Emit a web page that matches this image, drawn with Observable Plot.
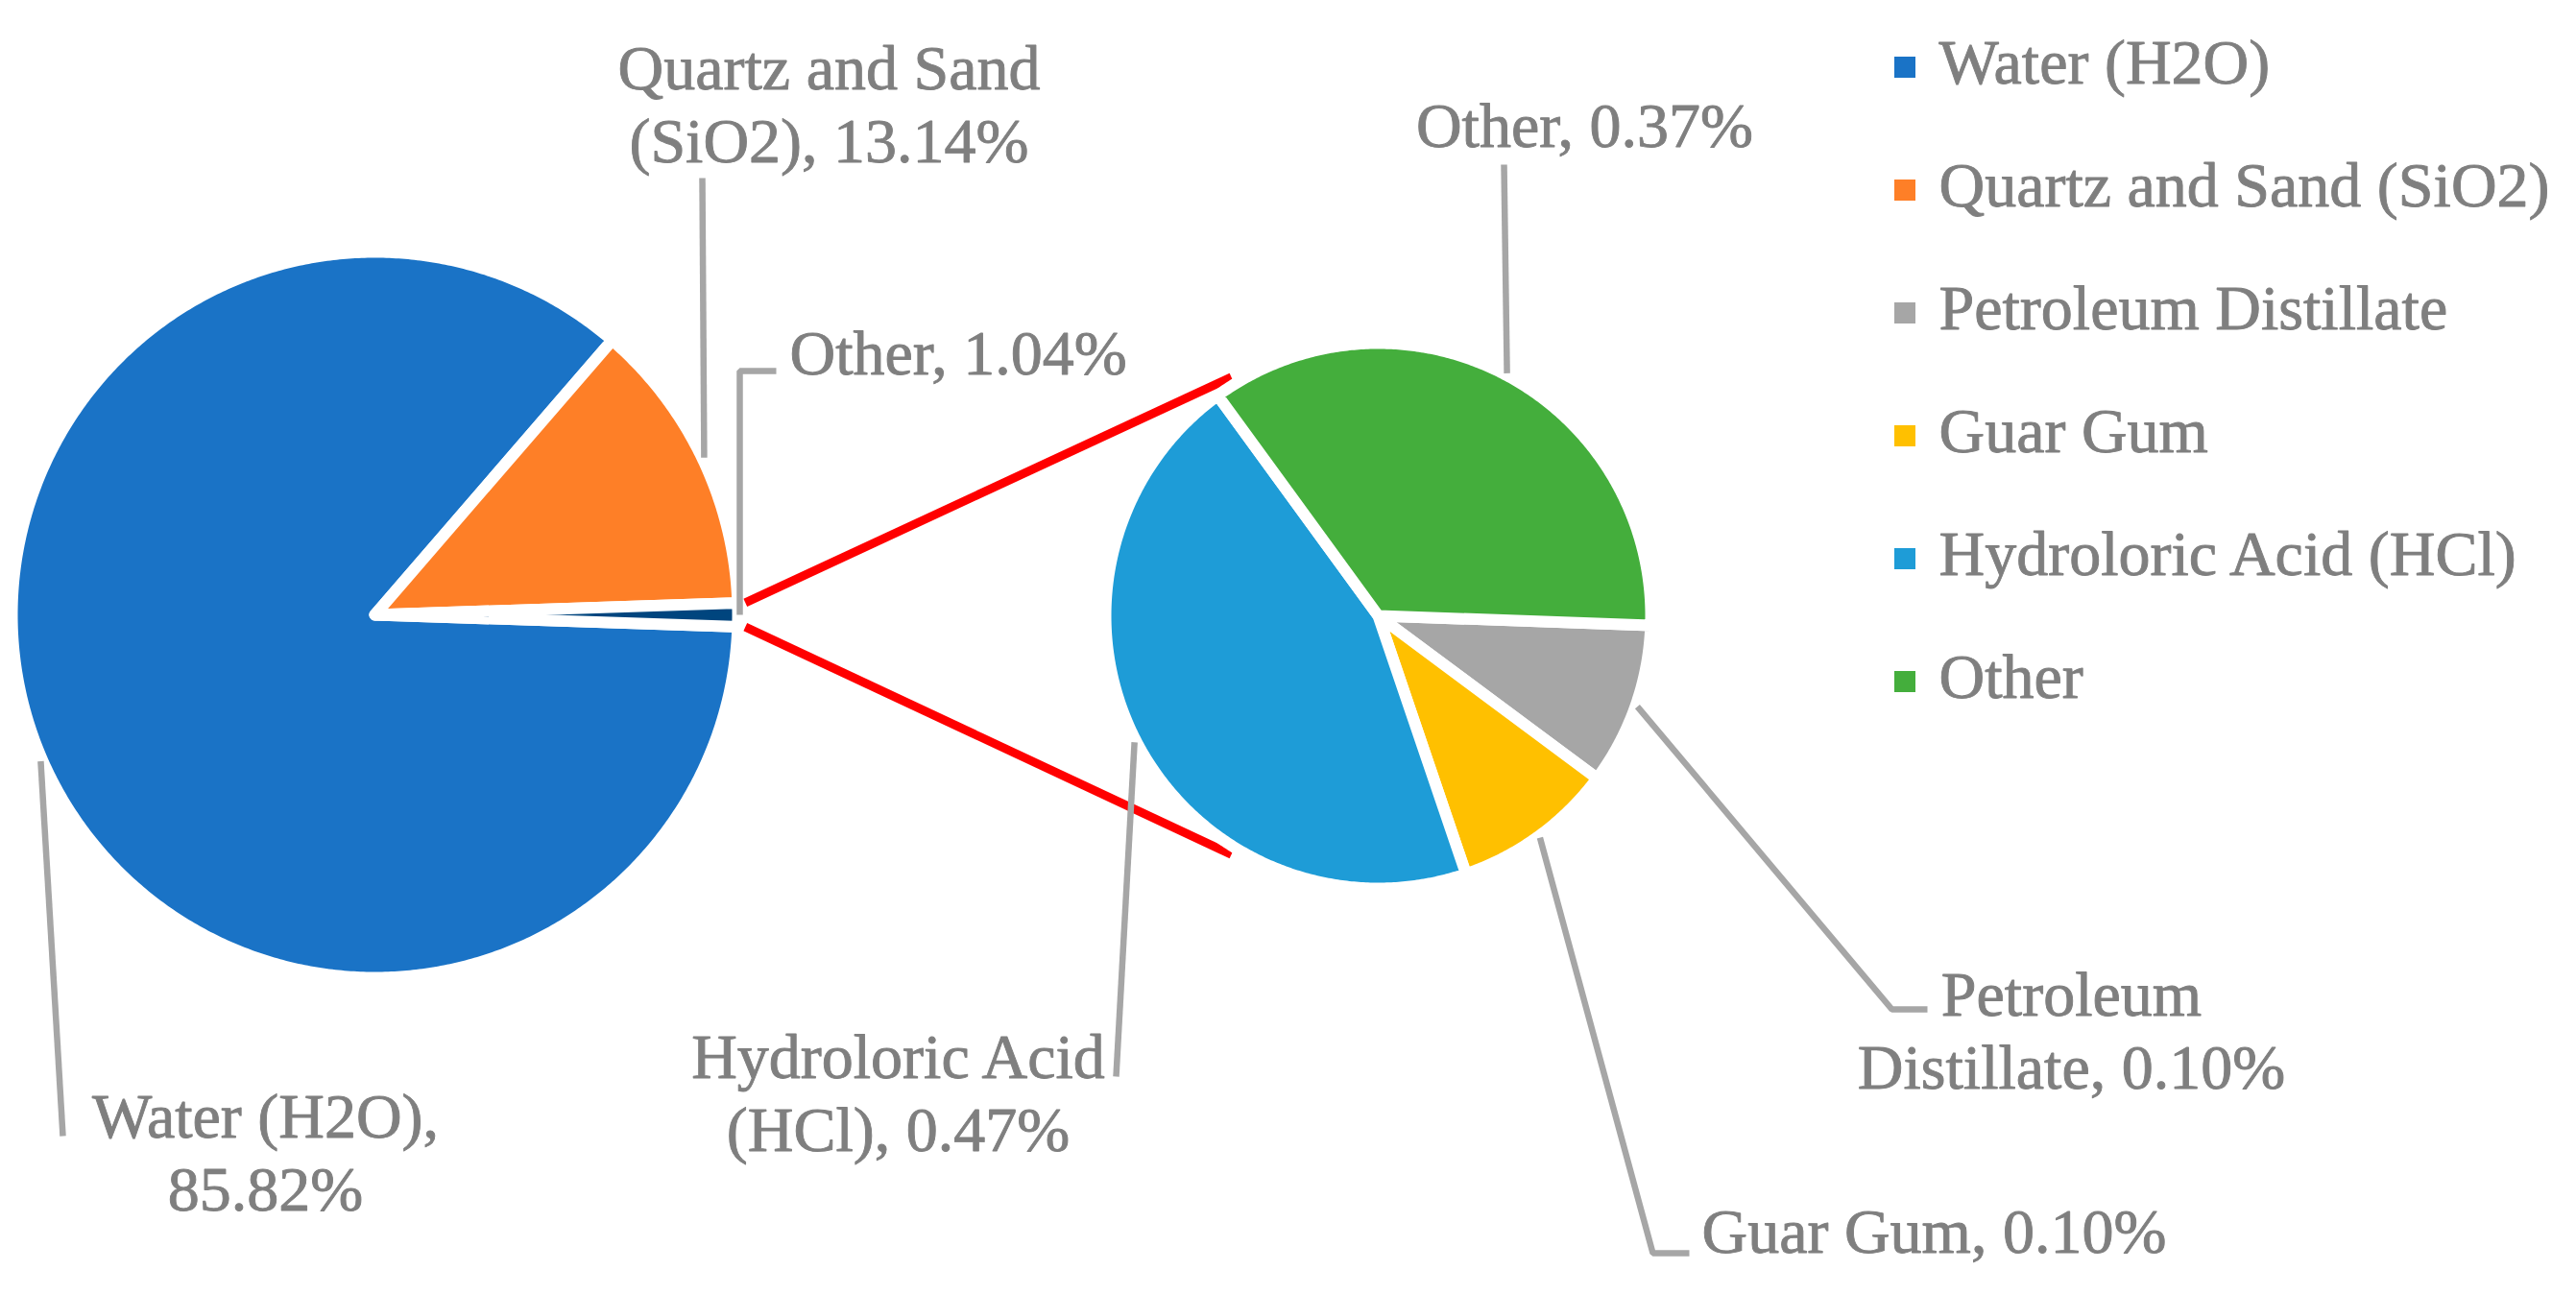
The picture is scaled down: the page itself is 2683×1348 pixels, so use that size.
<!DOCTYPE html>
<html>
<head>
<meta charset="utf-8">
<script src="https://cdn.jsdelivr.net/npm/d3@7"></script>
<script src="https://cdn.jsdelivr.net/npm/@observablehq/plot@0.6"></script>
<style>
  html, body { margin: 0; padding: 0; background: #ffffff; }
  #chart svg { display: block; }
</style>
</head>
<body>
<div id="chart"></div>
<script>
// ---------- data ----------
const mainCategories = ["Water (H2O)", "Quartz and Sand (SiO2)", "Other"];
const mainValues = [85.82, 13.14, 1.04];
const mainColors = ["#1a73c6", "#fe7f27", "#00457e"];

const secCategories = ["Petroleum Distillate", "Guar Gum", "Hydroloric Acid (HCl)", "Other"];
const secValues = [0.10, 0.10, 0.47, 0.37];
const secColors = ["#a6a6a6", "#ffc000", "#1e9cd7", "#44ae3c"];

const legendCategories = ["Water (H2O)", "Quartz and Sand (SiO2)", "Petroleum Distillate", "Guar Gum", "Hydroloric Acid (HCl)", "Other"];
const legendColors = ["#1a73c6", "#fe7f27", "#a6a6a6", "#ffc000", "#1e9cd7", "#44ae3c"];

// ---------- layout (pixels) ----------
const W = 2683, H = 1348;
const FONT = "'Liberation Serif', serif";
const FS = 66;
const LH = 1.15;
const TEXT = "#7f7f7f";
const LEADER = "#a6a6a6";
const TEXT_DY = -5;

const mainPie = {cx: 390, cy: 640, r: 378, start: 0};
const secPie = {cx: 1435, cy: 641, r: 284, start: 92};
// main pie: the "Other" slice is centred at 3 o'clock
mainPie.start = 90 + (mainValues[2] / d3.sum(mainValues)) * 360 / 2;

// label layout: words on first line, text anchor point, leader elbow points
const mainLabelLayout = [
  {wrap: 2, x: 276, y: 1203, anchor: "middle", elbow: [[65, 1183]]},
  {wrap: 3, x: 863, y: 111, anchor: "middle", elbow: [[731, 185]]},
  {wrap: 0, x: 822, y: 370, anchor: "start", elbow: [[770, 386], [808, 386]]}
];
const secLabelLayout = [
  {wrap: 1, x: 2157, y: 1076, anchor: "middle", elbow: [[1970, 1051], [2007, 1051]]},
  {wrap: 0, x: 1772, y: 1285, anchor: "start", elbow: [[1721, 1305], [1759, 1305]]},
  {wrap: 2, x: 935, y: 1141, anchor: "middle", elbow: [[1162, 1121]]},
  {wrap: 0, x: 1650, y: 133, anchor: "middle", elbow: [[1566, 171]]}
];
const legendLayout = {squareX: 1973, size: 22, textX: 2019, y0: 70, step: 128};

// ---------- geometry helpers ----------
const rad = d => d * Math.PI / 180;
const pt = (p, angDeg, r) => [p.cx + r * Math.sin(rad(angDeg)), p.cy - r * Math.cos(rad(angDeg))];

function slices(pie, cats, vals, cols, tag) {
  const total = d3.sum(vals);
  let a = pie.start;
  return cats.map((c, i) => {
    const a1 = a, a2 = a + vals[i] / total * 360;
    a = a2;
    return {key: tag + i, cat: c, value: vals[i], color: cols[i], a1, a2, mid: (a1 + a2) / 2};
  });
}
function slicePoints(pie, s) {
  const pts = [{key: s.key, color: s.color, x: pie.cx, y: pie.cy}];
  const n = Math.max(2, Math.ceil((s.a2 - s.a1) / 0.5));
  for (let k = 0; k <= n; k++) {
    const [x, y] = pt(pie, s.a1 + (s.a2 - s.a1) * k / n, pie.r);
    pts.push({key: s.key, color: s.color, x, y});
  }
  return pts;
}
function labelText(s, wrap) {
  const t = `${s.cat}, ${s.value.toFixed(2)}%`;
  if (!wrap) return t;
  const w = t.split(" ");
  return w.slice(0, wrap).join(" ") + "\n" + w.slice(wrap).join(" ");
}

const mainSlices = slices(mainPie, mainCategories, mainValues, mainColors, "m");
const secSlices = slices(secPie, secCategories, secValues, secColors, "s");

const slicePts = [
  ...mainSlices.flatMap(s => slicePoints(mainPie, s)),
  ...secSlices.flatMap(s => slicePoints(secPie, s))
];

// connector lines from the "Other" slice of the main pie to the secondary pie
const other = mainSlices[2];
const connectorAngle = 58.4;
const connectors = [
  {k: "up", p: [pt(mainPie, other.a1, mainPie.r + 8), pt(secPie, 270 + connectorAngle, secPie.r + 8)]},
  {k: "dn", p: [pt(mainPie, other.a2, mainPie.r + 8), pt(secPie, 270 - connectorAngle, secPie.r + 8)]}
].flatMap(c => c.p.map(([x, y]) => ({k: c.k, x, y})));

// labels + leaders
const labels = [];
const leaders = [];
function addLabels(pie, sl, layout) {
  sl.forEach((s, i) => {
    const L = layout[i];
    labels.push({text: labelText(s, L.wrap), x: L.x, y: L.y, anchor: L.anchor});
    const [sx, sy] = pt(pie, s.mid, pie.r + 2);
    [[sx, sy], ...L.elbow].forEach(([x, y]) => leaders.push({k: s.key, x, y}));
  });
}
addLabels(mainPie, mainSlices, mainLabelLayout);
addLabels(secPie, secSlices, secLabelLayout);

const legendRows = legendCategories.map((c, i) => ({
  cat: c, color: legendColors[i],
  y: legendLayout.y0 + i * legendLayout.step
}));

const textStyle = {fontSize: FS, fill: TEXT, stroke: TEXT, strokeWidth: 0.9, fontFamily: FONT, dy: TEXT_DY};

const chart = Plot.plot({
  width: W,
  height: H,
  margin: 0,
  x: {domain: [0, W], range: [0, W], axis: null},
  y: {domain: [0, H], range: [0, H], axis: null},
  color: {type: "identity"},
  style: {background: "#ffffff", fontFamily: FONT},
  marks: [
    Plot.line(connectors, {x: "x", y: "y", z: "k", stroke: "#ff0000", strokeWidth: 9, strokeLinecap: "butt"}),
    Plot.line(slicePts, {x: "x", y: "y", z: "key", fill: "color", stroke: "#ffffff", strokeWidth: 12,
      strokeLinejoin: "round", curve: "linear-closed"}),
    Plot.line(leaders, {x: "x", y: "y", z: "k", stroke: LEADER, strokeWidth: 6.5, strokeLinejoin: "miter", strokeLinecap: "butt"}),
    Plot.text(labels.filter(d => d.anchor === "middle"), {x: "x", y: "y", text: "text", textAnchor: "middle",
      lineHeight: LH, ...textStyle}),
    Plot.text(labels.filter(d => d.anchor === "start"), {x: "x", y: "y", text: "text", textAnchor: "start",
      lineHeight: LH, ...textStyle}),
    Plot.rect(legendRows, {
      x1: () => legendLayout.squareX, x2: () => legendLayout.squareX + legendLayout.size,
      y1: d => d.y - legendLayout.size / 2, y2: d => d.y + legendLayout.size / 2,
      fill: "color"
    }),
    Plot.text(legendRows, {x: () => legendLayout.textX, y: "y", text: "cat", textAnchor: "start", ...textStyle})
  ]
});
document.getElementById("chart").appendChild(chart);
</script>
</body>
</html>
